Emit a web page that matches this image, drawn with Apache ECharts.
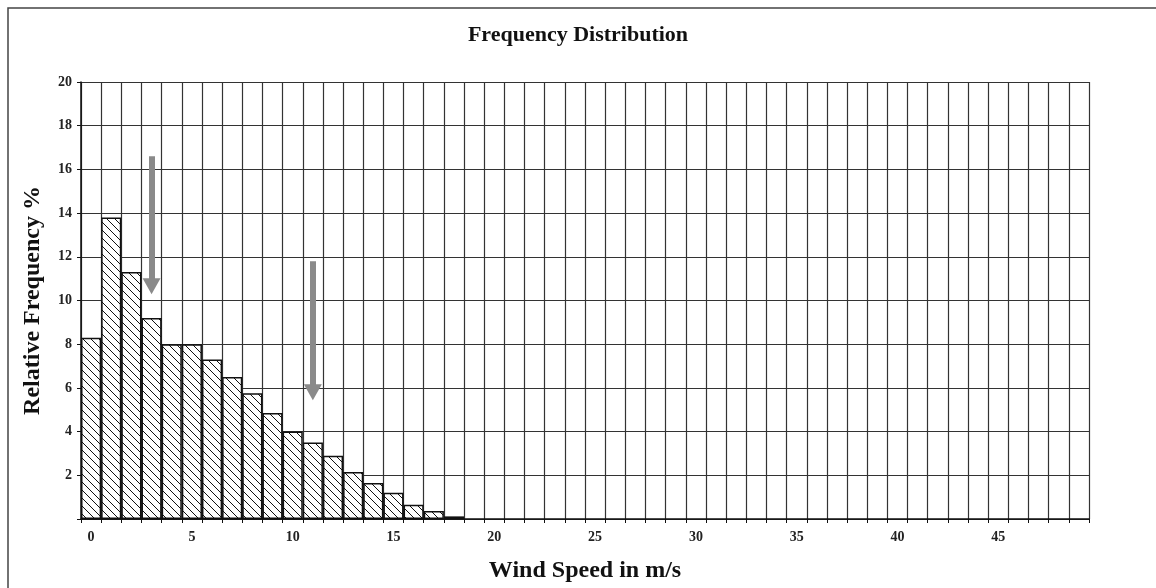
<!DOCTYPE html>
<html>
<head>
<meta charset="utf-8">
<script src="https://cdn.jsdelivr.net/npm/echarts@6/dist/echarts.min.js"></script>
<style>
  html, body { margin: 0; padding: 0; background: #fff; }
  #chart { width: 1156px; height: 588px; }
</style>
</head>
<body>
<div id="chart"></div>
<script>
// wind speed bins 0..49 m/s
const speeds = [];
for (let i = 0; i < 50; i++) speeds.push(String(i));

// relative frequency % (bins 19..49 are empty)
const freq = [8.3, 13.8, 11.3, 9.2, 8.0, 8.0, 7.3, 6.5, 5.75, 4.85,
              4.0, 3.5, 2.9, 2.15, 1.65, 1.2, 0.65, 0.37, 0.12];

// the two grey arrows: [bin, from %, to %]
const arrows = [
  [3, 16.6, 10.65],
  [11, 11.8, 5.8],
];

const yTicks = [0, 20, 2]; // min, max, step

// diagonal hatching like "\\\\"
function hatch() {
  const c = document.createElement("canvas");
  const s = 8;
  c.width = s;
  c.height = s;
  const g = c.getContext("2d");
  g.fillStyle = "#fff";
  g.fillRect(0, 0, s, s);
  g.strokeStyle = "#111";
  g.lineWidth = 1;
  g.beginPath();
  g.moveTo(-1, -1);
  g.lineTo(s + 1, s + 1);
  g.moveTo(-1, s - 1);
  g.lineTo(1, s + 1);
  g.moveTo(s - 1, -1);
  g.lineTo(s + 1, 1);
  g.stroke();
  return c;
}

const font = "'Liberation Serif', 'Times New Roman', serif";

const chart = echarts.init(document.getElementById("chart"));
chart.setOption({
  animation: false,
  backgroundColor: "#fff",
  textStyle: { fontFamily: font },
  title: {
    text: "Frequency Distribution",
    left: "center",
    top: 19,
    textStyle: { fontFamily: font, fontSize: 22, fontWeight: "bold", color: "#111" },
  },
  graphic: [
    {
      type: "rect",
      shape: { x: 8, y: 8, width: 1300, height: 700 },
      style: { fill: "none", stroke: "#444", lineWidth: 1.5 },
      silent: true,
    },
  ],
  grid: { left: 81, right: 67, top: 82, bottom: 68 },
  xAxis: {
    type: "category",
    data: speeds,
    name: "Wind Speed in m/s",
    nameLocation: "middle",
    nameGap: 40,
    nameTextStyle: { fontFamily: font, fontSize: 24, fontWeight: "bold", color: "#111" },
    axisLine: { lineStyle: { color: "#111", width: 1.5 } },
    axisTick: { show: true, interval: 0, length: 4, lineStyle: { color: "#111" } },
    axisLabel: {
      interval: 4,
      margin: 11,
      fontFamily: font,
      fontSize: 14,
      fontWeight: "bold",
      color: "#222",
    },
    splitLine: { show: true, interval: 0, lineStyle: { color: "#333", width: 1.2 } },
  },
  yAxis: {
    type: "value",
    min: yTicks[0],
    max: yTicks[1],
    interval: yTicks[2],
    name: "Relative Frequency %",
    nameLocation: "middle",
    nameGap: 36,
    nameTextStyle: { fontFamily: font, fontSize: 24, fontWeight: "bold", color: "#111" },
    axisLine: { show: true, lineStyle: { color: "#111", width: 1.5 } },
    axisTick: { show: true, length: 4, lineStyle: { color: "#111" } },
    axisLabel: {
      margin: 9,
      fontFamily: font,
      fontSize: 14,
      fontWeight: "bold",
      color: "#222",
      formatter: (v) => (v === 0 ? "" : v),
    },
    splitLine: { show: true, lineStyle: { color: "#333", width: 1.2 } },
  },
  series: [
    {
      type: "bar",
      data: freq,
      barCategoryGap: "0%",
      itemStyle: {
        color: { image: hatch(), repeat: "repeat" },
        borderColor: "#111",
        borderWidth: 1.5,
      },
      emphasis: { disabled: true },
      markLine: {
        silent: true,
        symbol: ["none", "triangle"],
        symbolSize: [18, 16],
        label: { show: false },
        lineStyle: { color: "#8a8a8a", width: 6, type: "solid" },
        data: arrows.map((a) => [
          { coord: [a[0], a[1]] },
          { coord: [a[0], a[2]] },
        ]),
      },
    },
  ],
});
</script>
</body>
</html>
